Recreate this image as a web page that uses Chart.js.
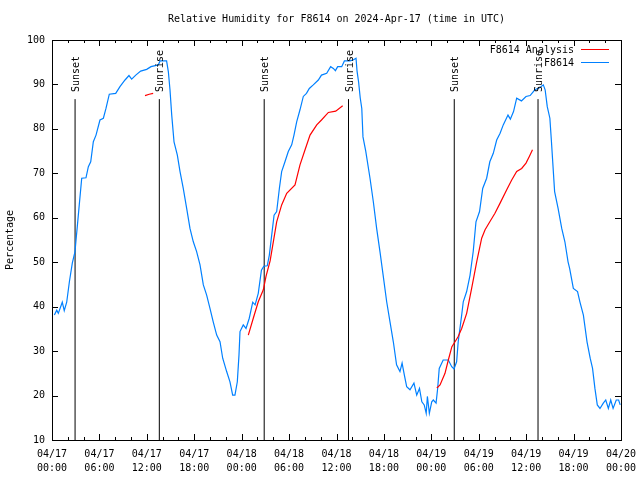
<!DOCTYPE html>
<html>
<head>
<meta charset="utf-8">
<title>Relative Humidity for F8614</title>
<script src="https://cdn.jsdelivr.net/npm/chart.js@4.4.1/dist/chart.umd.min.js"></script>
<style>
  html, body { margin: 0; padding: 0; background: #fff; }
  canvas { display: block; }
</style>
</head>
<body>
<canvas id="humidityChart" width="640" height="480"></canvas>
<script>
// time axis is hours since 2024-04-17 00:00 UTC
const obsHours = [
    0.3, 0.6, 0.8, 1.3, 1.55, 1.86, 2.2, 2.57, 2.91, 3.04, 3.2, 3.45, 3.76,
    4.3, 4.6, 4.9, 5.23, 5.57, 6.07, 6.5, 6.83, 7.25, 8.06, 8.6, 9.24, 9.74,
    10.08, 10.6, 11.22, 11.98, 12.53, 13.45, 13.67, 14.5, 14.72, 14.93, 15.15, 15.44, 15.86,
    16.2, 16.61, 17.04, 17.46, 17.88, 18.3, 18.73, 19.15, 19.57, 19.99, 20.4, 20.84, 21.26,
    21.6, 22.1, 22.52, 22.86, 23.15, 23.45, 23.66, 23.79, 24.2, 24.55, 24.96, 25.4, 25.7,
    26.1, 26.5, 26.8, 27.24, 27.5, 27.8, 28.1, 28.43, 28.77, 29.06, 29.48, 29.9, 30.33,
    30.62, 30.96, 31.38, 31.8, 32.2, 32.56, 33.06, 33.7, 34.1, 34.76, 35.26, 35.6, 35.86,
    36.15, 36.66, 37.0, 37.7, 38.1, 38.47, 38.6, 38.8, 39.0, 39.2, 39.35, 39.7, 40.24,
    40.66, 41.08, 41.5, 41.9, 42.35, 42.77, 43.19, 43.6, 44.03, 44.3, 44.6, 44.88, 45.3,
    45.8, 46.15, 46.5, 46.8, 47.1, 47.35, 47.5, 47.75, 48.05, 48.25, 48.6, 48.8, 49.0,
    49.5, 50.15, 50.58, 50.87, 51.2, 51.4, 51.84, 52.04, 52.47, 52.9, 53.3, 53.65, 54.1,
    54.5, 55.0, 55.4, 55.84, 56.27, 56.7, 57.1, 57.7, 58.0, 58.4, 58.8, 59.4, 59.98,
    60.5, 61.1, 61.75, 62.17, 62.4, 62.67, 63.0, 63.2, 63.6, 64.04, 64.5, 64.9, 65.3,
    65.5, 65.97, 66.5, 66.8, 67.24, 67.7, 68.1, 68.4, 68.7, 69.0, 69.34, 69.76, 70.07,
    70.4, 70.7, 71.0, 71.4, 71.7, 71.9
];
const obsValues = [
    38.1, 39.2, 38.5, 41.0, 39.1, 41.0, 45.6, 49.8, 52.4, 55.0, 58.0, 62.9, 68.9,
    69.0, 71.5, 72.6, 77.1, 78.6, 82.0, 82.4, 84.6, 87.8, 88.0, 89.5, 91.0, 92.0,
    91.2, 92.1, 93.0, 93.4, 94.0, 94.4, 95.3, 95.3, 92.9, 88.8, 83.1, 77.1, 74.1,
    70.4, 66.6, 62.1, 57.6, 54.6, 52.4, 49.4, 44.9, 42.6, 39.6, 36.6, 33.6, 32.1,
    28.4, 25.4, 23.1, 20.1, 20.1, 23.1, 29.1, 34.4, 35.9, 35.1, 37.4, 41.0, 40.4,
    43.0, 48.2, 49.1, 49.2, 51.6, 56.1, 60.6, 61.4, 66.6, 70.4, 72.6, 74.9, 76.4,
    78.6, 81.6, 84.3, 87.3, 88.0, 89.1, 89.9, 91.0, 92.1, 92.5, 94.0, 93.6, 93.1,
    94.0, 94.0, 95.3, 95.3, 95.5, 95.9, 93.0, 90.5, 87.0, 84.6, 78.2, 75.0, 68.9,
    63.6, 57.6, 52.4, 47.1, 41.1, 36.6, 32.1, 26.9, 25.4, 27.3, 24.5, 22.0, 21.3,
    22.8, 20.1, 21.6, 18.6, 17.9, 16.0, 19.8, 16.0, 18.6, 19.0, 18.3, 21.6, 26.1,
    28.0, 28.0, 26.5, 26.0, 27.6, 32.1, 38.1, 41.1, 43.4, 47.1, 52.4, 59.1, 61.4,
    66.6, 68.9, 72.6, 74.5, 77.5, 79.0, 80.9, 83.1, 82.2, 83.9, 86.9, 86.3, 87.3,
    87.5, 88.8, 89.3, 89.9, 88.8, 85.0, 82.4, 77.1, 65.9, 62.1, 57.6, 54.6, 50.1,
    48.6, 44.1, 43.4, 41.1, 38.1, 32.1, 28.4, 26.1, 21.6, 17.9, 17.1, 18.3, 19.0,
    17.1, 19.0, 17.1, 19.0, 19.0, 17.9
];

// analysis runs, null marks the gaps between them
const anaHours = [
    11.77, 12.3, 12.8,
    18,
    24.84, 25.47, 26.1, 26.74, 27.08, 27.6, 28.43, 29.06, 29.7, 30.75, 31.38, 32.0,
    32.65, 33.5, 34.1, 34.97, 35.9, 36.78,
    42,
    48.7, 49.1, 49.73, 50.15, 50.6, 51.0, 51.4, 51.84, 52.47, 53.1, 53.74, 54.37,
    54.8, 55.4, 56.05, 56.7, 57.54, 58.17, 58.8, 59.43, 59.98, 60.4, 60.8
];
const anaValues = [
    87.5, 87.8, 88.0,
    null,
    33.6, 37.4, 41.1, 43.8, 46.8, 50.3, 59.1, 62.9, 65.5, 67.4, 71.9, 75.2,
    78.6, 80.9, 82.0, 83.7, 84.0, 85.2,
    null,
    21.7, 22.4, 25.0, 28.0, 31.0, 32.1, 33.3, 35.1, 38.5, 44.1, 50.1, 55.4,
    57.3, 59.1, 61.0, 63.3, 66.3, 68.5, 70.4, 71.1, 72.3, 73.8, 75.3
];

const sunsetHours = [2.92, 26.85, 50.9];
const sunriseHours = [13.58, 37.52, 61.5];
const sunLineTop = 86.7;

const xTickDates = ['04/17', '04/17', '04/17', '04/17', '04/18', '04/18', '04/18',
    '04/18', '04/19', '04/19', '04/19', '04/19', '04/20'];
const xTickTimes = ['00:00', '06:00', '12:00', '18:00', '00:00', '06:00', '12:00',
    '18:00', '00:00', '06:00', '12:00', '18:00', '00:00'];

const yMin = 10;
const yMax = 100;
const monoFont = "'DejaVu Sans Mono', 'Liberation Mono', monospace";
const obsColor = 'rgb(0, 128, 255)';
const anaColor = 'rgb(255, 0, 0)';

function zip(xs, ys) {
    return xs.map((x, i) => ({ x: x, y: ys[i] }));
}

function sunLine(h, kind) {
    return {
        label: kind,
        data: [{ x: h, y: yMin }, { x: h, y: sunLineTop }],
        borderColor: '#000',
        borderWidth: 1,
        pointRadius: 0,
        sunEvent: kind
    };
}

const sunDatasets = [
    ...sunsetHours.map(h => sunLine(h, 'Sunset')),
    ...sunriseHours.map(h => sunLine(h, 'Sunrise'))
];

const gnuplotFrame = {
    id: 'gnuplotFrame',
    afterDraw(chart) {
        const { ctx, chartArea: a, scales: { x, y } } = chart;
        ctx.save();
        ctx.strokeStyle = '#000';
        ctx.lineWidth = 1;

        // inward tick marks on all four sides
        ctx.beginPath();
        for (const t of y.ticks) {
            const py = Math.round(y.getPixelForValue(t.value)) + 0.5;
            ctx.moveTo(a.left, py);
            ctx.lineTo(a.left + 6, py);
            ctx.moveTo(a.right, py);
            ctx.lineTo(a.right - 6, py);
        }
        for (const t of x.ticks) {
            const len = t.value % 6 === 0 ? 6 : 3;
            const px = Math.round(x.getPixelForValue(t.value)) + 0.5;
            ctx.moveTo(px, a.bottom);
            ctx.lineTo(px, a.bottom - len);
            ctx.moveTo(px, a.top);
            ctx.lineTo(px, a.top + len);
        }
        ctx.stroke();
        ctx.strokeRect(a.left + 0.5, a.top + 0.5, a.right - a.left, a.bottom - a.top);

        // Sunset / Sunrise labels above their lines
        ctx.fillStyle = '#000';
        ctx.font = '10px ' + monoFont;
        ctx.textAlign = 'left';
        ctx.textBaseline = 'middle';
        chart.data.datasets.forEach(ds => {
            if (!ds.sunEvent) return;
            const px = x.getPixelForValue(ds.data[0].x) + 1.5;
            const py = y.getPixelForValue(sunLineTop) - 7;
            ctx.save();
            ctx.translate(px, py);
            ctx.rotate(-Math.PI / 2);
            ctx.fillText(ds.sunEvent, 0, 0);
            ctx.restore();
        });

        // key in the top right corner
        const entries = [['F8614 Analysis', anaColor], ['F8614', obsColor]];
        ctx.textAlign = 'right';
        entries.forEach(([text, color], i) => {
            const ly = a.top + 10 + i * 13;
            ctx.fillStyle = '#000';
            ctx.fillText(text, a.right - 47, ly);
            ctx.strokeStyle = color;
            ctx.beginPath();
            ctx.moveTo(a.right - 40, Math.round(ly) - 0.5);
            ctx.lineTo(a.right - 12, Math.round(ly) - 0.5);
            ctx.stroke();
        });
        ctx.restore();
    }
};

const ctx = document.getElementById('humidityChart').getContext('2d');
new Chart(ctx, {
    type: 'line',
    data: {
        datasets: [
            {
                label: 'F8614 Analysis',
                data: zip(anaHours, anaValues),
                borderColor: anaColor,
                borderWidth: 1.2,
                pointRadius: 0,
                spanGaps: false
            },
            {
                label: 'F8614',
                data: zip(obsHours, obsValues),
                borderColor: obsColor,
                borderWidth: 1.2,
                pointRadius: 0
            },
            ...sunDatasets
        ]
    },
    options: {
        responsive: false,
        animation: false,
        events: [],
        layout: { padding: { left: 0, right: 19, top: 0, bottom: 0 } },
        plugins: {
            legend: { display: false },
            tooltip: { enabled: false },
            title: {
                display: true,
                fullSize: false,
                text: 'Relative Humidity for F8614 on 2024-Apr-17 (time in UTC)',
                color: '#000',
                font: { family: monoFont, size: 10, weight: 'normal' },
                padding: { top: 13, bottom: 15 }
            }
        },
        scales: {
            x: {
                type: 'linear',
                min: 0,
                max: 72,
                grid: { display: false, drawTicks: false },
                border: { display: false },
                ticks: {
                    stepSize: 2,
                    autoSkip: false,
                    maxRotation: 0,
                    padding: 7,
                    color: '#000',
                    font: { family: monoFont, size: 10, lineHeight: 1.4 },
                    callback: v => v % 6 === 0 ? [xTickDates[v / 6], xTickTimes[v / 6]] : ''
                },
                afterFit: scale => {
                    scale.height = 40;
                    scale.paddingLeft = 0;
                    scale.paddingRight = 0;
                }
            },
            y: {
                min: yMin,
                max: yMax,
                grid: { display: false, drawTicks: false },
                border: { display: false },
                ticks: {
                    stepSize: 10,
                    padding: 7,
                    color: '#000',
                    font: { family: monoFont, size: 10 }
                },
                title: {
                    display: true,
                    text: 'Percentage',
                    color: '#000',
                    font: { family: monoFont, size: 10 },
                    padding: { top: 4, bottom: 0 }
                },
                afterFit: scale => { scale.width = 52; }
            }
        }
    },
    plugins: [gnuplotFrame]
});
</script>
</body>
</html>
